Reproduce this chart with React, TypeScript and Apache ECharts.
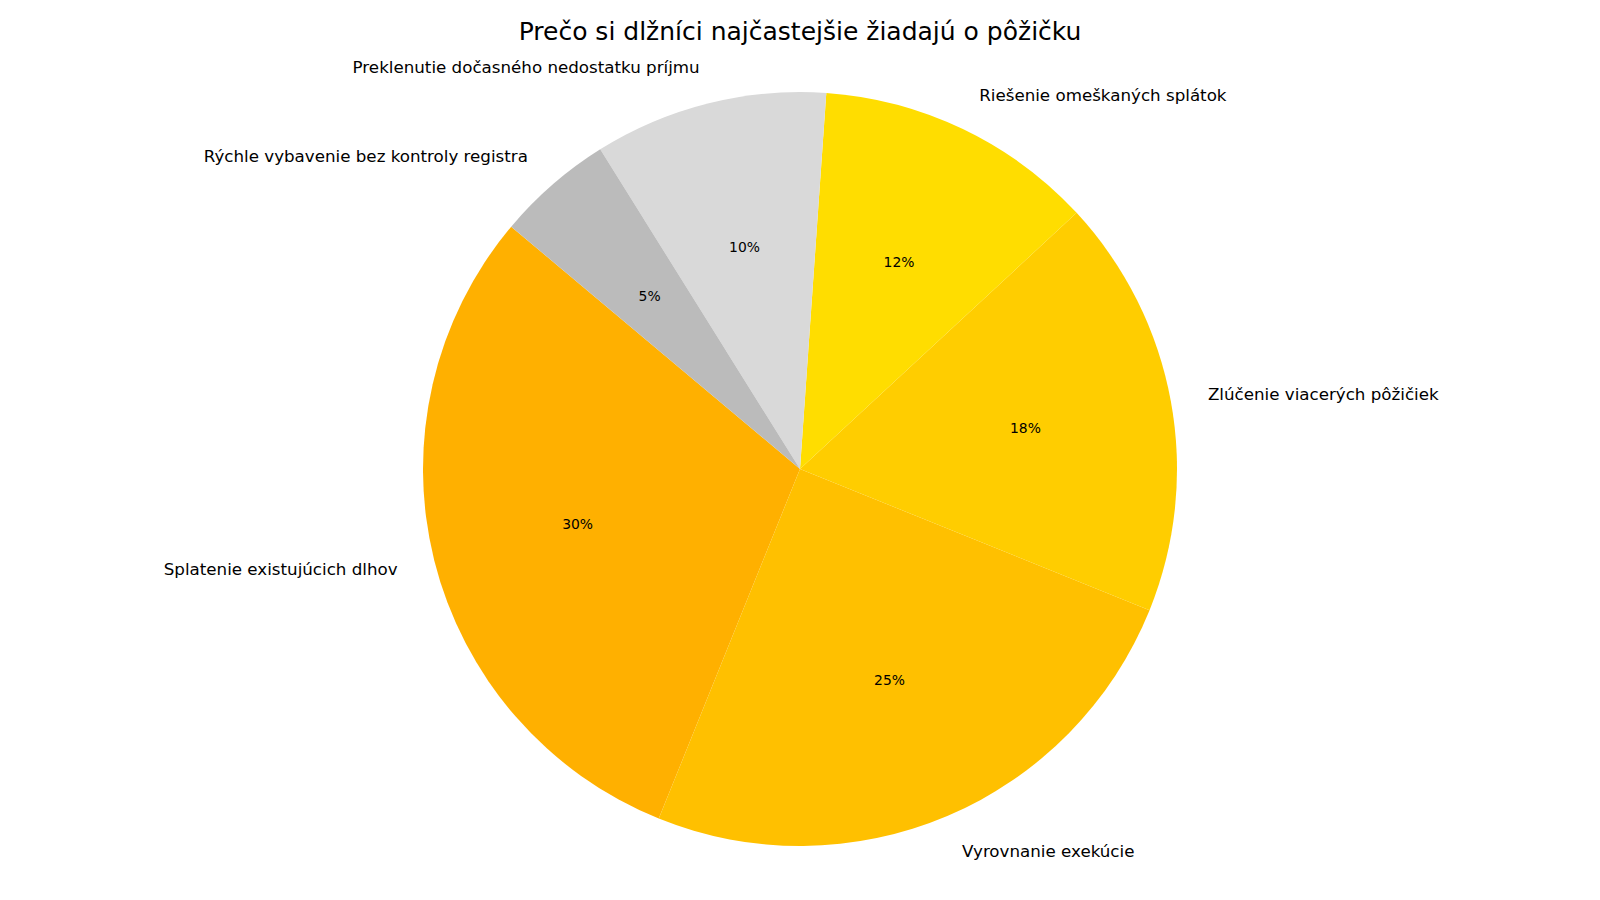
import React, { useEffect, useRef } from "react";
import * as echarts from "echarts";

const TITLE = "Prečo si dlžníci najčastejšie žiadajú o pôžičku";
const categories = [
  "Splatenie existujúcich dlhov",
  "Vyrovnanie exekúcie",
  "Zlúčenie viacerých pôžičiek",
  "Riešenie omeškaných splátok",
  "Preklenutie dočasného nedostatku príjmu",
  "Rýchle vybavenie bez kontroly registra",
];
const values = [30, 25, 18, 12, 10, 5];
const colors = ["#FFB000", "#FFC000", "#FFCD00", "#FFDD00", "#D9D9D9", "#BBBBBB"];

const FONT = "DejaVu Sans";
const CX = 800;
const CY = 469;
const R = 377;

export default function App() {
  const ref = useRef<HTMLDivElement>(null);
  useEffect(() => {
    document.body.style.margin = "0";
    const chart = echarts.init(ref.current!, null, { renderer: "svg" });
    const total = values.reduce((a, b) => a + b, 0);
    const data = categories.map((name, i) => ({
      name,
      value: values[i],
      itemStyle: { color: colors[i] },
    }));
    chart.setOption({
      animation: false,
      backgroundColor: "#ffffff",
      title: {
        text: TITLE,
        left: "center",
        top: 14,
        textStyle: { fontFamily: FONT, fontSize: 25, fontWeight: "normal", color: "#000" },
      },
      series: [
        {
          type: "pie",
          center: [CX, CY],
          radius: [0, R],
          startAngle: 140,
          clockwise: false,
          avoidLabelOverlap: false,
          silent: true,
          data,
          label: {
            show: true,
            position: "outside",
            formatter: "{b}",
            fontFamily: FONT,
            fontSize: 16.7,
            color: "#000",
            distanceToLabelLine: 0,
          },
          labelLine: { show: false, length: R * 0.1, length2: 0 },
          emphasis: { disabled: true },
        },
        {
          type: "pie",
          center: [CX, CY],
          radius: [R * 0.2, R],
          startAngle: 140,
          clockwise: false,
          avoidLabelOverlap: false,
          silent: true,
          data: categories.map((name, i) => ({
            name,
            value: values[i],
            itemStyle: { color: "rgba(0,0,0,0)" },
          })),
          label: {
            show: true,
            position: "inside",
            formatter: (p: any) => `${Math.round((p.value / total) * 100)}%`,
            fontFamily: FONT,
            fontSize: 13.9,
            color: "#000",
          },
          labelLine: { show: false },
          emphasis: { disabled: true },
        },
      ],
    });
    return () => chart.dispose();
  }, []);
  return <div ref={ref} style={{ width: 1600, height: 900 }} />;
}
